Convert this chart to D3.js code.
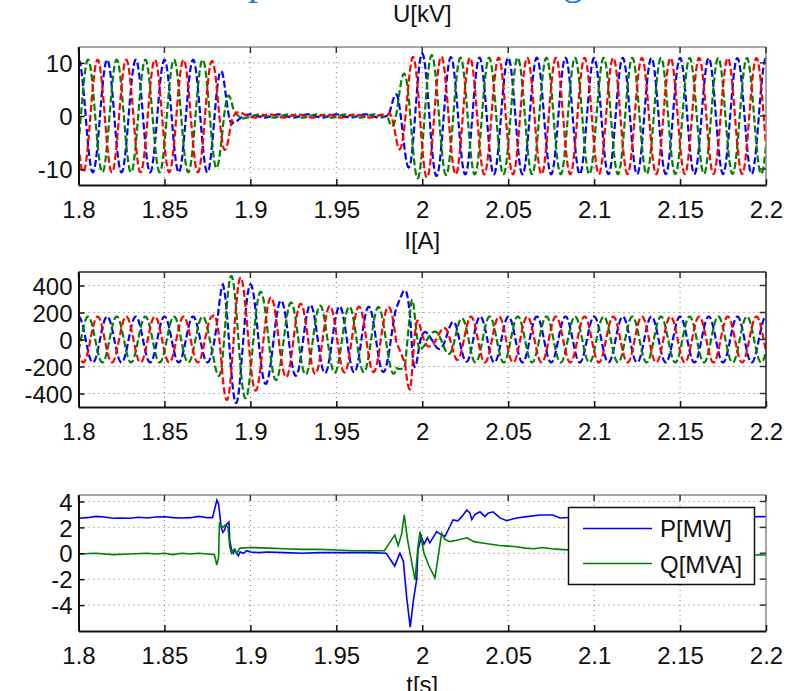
<!DOCTYPE html>
<html><head><meta charset="utf-8">
<script src="https://cdn.jsdelivr.net/npm/d3@7"></script>
<style>body{margin:0;background:#fff}svg{display:block}</style>
</head><body><svg id="c" width="798" height="691"></svg>
<script>
// ---------------- DATA ----------------
const xTicks = [1.8, 1.85, 1.9, 1.95, 2.0, 2.05, 2.1, 2.15, 2.2];
const xTickLabels = ["1.8", "1.85", "1.9", "1.95", "2", "2.05", "2.1", "2.15", "2.2"];
const uTicks = [-10, 0, 10];
const iTicks = [-400, -200, 0, 200, 400];
const pqTicks = [-4, -2, 0, 2, 4];
const panelTitles = ["U[kV]", "I[A]", "t[s]"];
const legendLabels = ["P[MW]", "Q[MVA]"];

// three-phase waveforms: mains frequency, phase angles of blue/green/red traces
const mainsHz = 60;
const phaseColors = ["#0000ff", "#008000", "#ff0000"];
const phaseAngleDeg = [0, -120, 120];
const phaseRefTime = 1.8;

// voltage amplitude envelope [kV]
const uEnvTime = [1.800, 1.876, 1.880, 1.884, 1.887, 1.890, 1.893, 1.898, 1.980, 1.983, 1.986, 1.990, 1.994, 1.998, 2.003, 2.010, 2.020, 2.200];
const uEnvAmp  = [10.6, 10.6, 10.0, 8.0, 5.0, 1.5, 0.8, 0.3, 0.3, 3.0, 6.0, 8.5, 11.0, 11.9, 11.6, 11.2, 11.0, 10.9];

// current amplitude envelope [A]
const iEnvTime = [1.800, 1.878, 1.881, 1.884, 1.888, 1.893, 1.898, 1.903, 1.910, 1.920, 1.935, 1.950, 1.980, 1.985, 1.989, 1.993, 1.996, 2.000, 2.005, 2.012, 2.020, 2.028, 2.200];
const iEnvAmp  = [170, 170, 260, 420, 470, 470, 430, 380, 320, 280, 255, 245, 240, 260, 360, 370, 200, 60, 50, 80, 150, 170, 170];
// current phase shift relative to the voltage [deg]
const iShiftTime = [1.800, 1.895, 1.920, 1.977, 1.985, 1.990, 1.993, 1.997, 2.003, 2.030, 2.060, 2.200];
const iShiftDeg  = [0, 0, -30, -50, -60, -145, -145, -90, -30, -10, 0, 0];

// active power P [MW]
const pTime = [1.800,1.805,1.810,1.815,1.820,1.825,1.830,1.835,1.840,1.845,1.850,1.855,1.860,1.865,1.870,1.875,1.878,1.8805,1.8815,1.883,1.884,1.885,1.886,1.8875,1.888,1.889,1.890,1.891,1.892,1.893,1.894,1.896,1.898,1.900,1.905,1.910,1.920,1.930,1.940,1.950,1.960,1.970,1.979,1.982,1.984,1.986,1.987,1.989,1.991,1.993,1.995,1.9968,1.9975,1.9995,2.001,2.003,2.0044,2.0084,2.0103,2.0132,2.016,2.0179,2.0207,2.023,2.0259,2.0278,2.0288,2.0307,2.0336,2.0365,2.0383,2.0412,2.0452,2.0491,2.055,2.0608,2.0685,2.076,2.0801,2.090,2.120,2.150,2.180,2.200];
const pVal  = [2.70,2.75,2.85,2.80,2.70,2.72,2.70,2.78,2.72,2.80,2.82,2.75,2.72,2.75,2.85,2.75,2.75,4.10,3.80,2.00,1.60,1.80,2.20,2.40,1.00,0.30,0.00,0.30,0.00,-0.20,0.10,0.00,0.20,0.10,0.05,0.10,0.05,0.00,0.05,0.05,0.05,0.05,0.00,-0.60,-1.00,-0.30,0.00,-0.60,-3.50,-5.70,-3.50,-2.00,0.25,1.30,0.70,1.20,0.80,1.67,1.50,1.30,2.05,2.57,2.50,2.83,3.34,3.10,2.60,3.00,3.20,2.83,3.10,3.20,2.73,2.52,2.73,2.83,2.96,2.96,2.73,2.80,2.80,2.85,2.80,2.83];

// reactive power Q [MVA]
const qTime = [1.800,1.810,1.820,1.830,1.840,1.845,1.850,1.855,1.860,1.865,1.870,1.875,1.879,1.8805,1.8815,1.882,1.884,1.8855,1.887,1.888,1.889,1.8905,1.892,1.894,1.900,1.910,1.920,1.930,1.940,1.950,1.960,1.970,1.978,1.981,1.984,1.986,1.988,1.9895,1.9915,1.9958,1.9975,1.9987,2.001,2.004,2.0074,2.0113,2.013,2.016,2.020,2.026,2.030,2.035,2.040,2.045,2.050,2.055,2.060,2.065,2.070,2.075,2.080,2.100,2.130,2.160,2.200];
const qVal  = [-0.05,0.00,-0.10,-0.05,0.00,-0.05,0.00,-0.10,0.00,-0.05,0.00,-0.05,-0.10,-0.90,-0.30,2.30,2.00,2.20,2.00,0.50,0.00,0.30,0.00,0.40,0.45,0.40,0.35,0.30,0.30,0.25,0.20,0.20,0.20,0.80,1.40,0.60,1.50,2.96,1.00,-2.06,0.50,1.67,0.00,-1.00,-1.90,1.55,1.10,0.90,1.00,1.20,0.90,0.80,0.70,0.60,0.55,0.50,0.40,0.35,0.45,0.35,0.30,0.15,0.00,-0.10,-0.13];

// ---------------- DRAWING ----------------
const svg = d3.select("#c");
const FONT = "'Liberation Sans', Arial, sans-serif";
const L = 78.5, R = 766;
const x = d3.scaleLinear().domain([1.8, 2.2]).range([L, R]);

// cropped blue heading fragments at the very top
svg.append("text").attr("x", 248).attr("y", -6).attr("font-family", "'Liberation Serif', serif")
  .attr("font-size", 40).attr("fill", "#1f7ad0").text("p");
svg.append("text").attr("x", 563).attr("y", -6).attr("font-family", "'Liberation Serif', serif")
  .attr("font-size", 40).attr("fill", "#1f7ad0").text("g");

const panels = [
  {top: 47, bottom: 185, dom: [-13, 13], ticks: uTicks, title: panelTitles[0], titleY: 22},
  {top: 272, bottom: 407, dom: [-500, 500], ticks: iTicks, title: panelTitles[1], titleY: 249},
  {top: 495, bottom: 631, dom: [-6, 4.5], ticks: pqTicks, title: null}
];

function drawFrame(p, idx) {
  const y = d3.scaleLinear().domain(p.dom).range([p.bottom, p.top]);
  const g = svg.append("g");
  const clipId = "clip" + idx;
  svg.append("clipPath").attr("id", clipId).append("rect")
    .attr("x", L).attr("y", p.top).attr("width", R - L).attr("height", p.bottom - p.top);
  const grid = g.append("g").attr("stroke", "#777").attr("stroke-width", 1).attr("stroke-dasharray", "1,4");
  grid.selectAll(".vx").data(xTicks.slice(1, -1)).join("line")
    .attr("x1", d => x(d)).attr("x2", d => x(d)).attr("y1", p.top).attr("y2", p.bottom);
  grid.selectAll(".hy").data(p.ticks).join("line")
    .attr("x1", L).attr("x2", R).attr("y1", d => y(d)).attr("y2", d => y(d));
  const plot = g.append("g").attr("clip-path", `url(#${clipId})`);
  const ax = g.append("g");
  ax.append("line").attr("x1", L).attr("x2", R).attr("y1", p.top).attr("y2", p.top).attr("stroke", idx === 1 ? "#222" : "#888").attr("stroke-width", 1.5);
  ax.append("line").attr("x1", R).attr("x2", R).attr("y1", p.top).attr("y2", p.bottom).attr("stroke", idx === 1 ? "#222" : "#888").attr("stroke-width", 1.5);
  const xAxis = d3.axisBottom(x).tickValues(xTicks).tickSizeInner(-6).tickSizeOuter(0).tickFormat((d, i) => xTickLabels[i]);
  const gx = ax.append("g").attr("transform", `translate(0,${p.bottom})`).call(xAxis);
  gx.select(".domain").attr("stroke", "#111").attr("stroke-width", 2);
  gx.selectAll(".tick line").attr("stroke", "#111").attr("stroke-width", 1.5);
  gx.selectAll(".tick text").attr("font-family", FONT).attr("font-size", 24).attr("fill", "#111").attr("dy", 0).attr("y", 33);
  ax.selectAll(".tt").data(xTicks).join("line").attr("x1", d => x(d)).attr("x2", d => x(d))
    .attr("y1", p.top).attr("y2", p.top + 6).attr("stroke", "#333").attr("stroke-width", 1.5);
  const yAxis = d3.axisLeft(y).tickValues(p.ticks).tickSizeInner(-6).tickSizeOuter(0).tickFormat(d3.format("d"));
  const gy = ax.append("g").attr("transform", `translate(${L},0)`).call(yAxis);
  gy.select(".domain").attr("stroke", "#111").attr("stroke-width", 2);
  gy.selectAll(".tick line").attr("stroke", "#111").attr("stroke-width", 1.5);
  gy.selectAll(".tick text").attr("font-family", FONT).attr("font-size", 24).attr("fill", "#111").attr("x", -6).attr("dy", "0.36em")
    .text(d => d < 0 ? "-" + Math.abs(d) : String(d));
  ax.selectAll(".rt").data(p.ticks).join("line").attr("x1", R - 6).attr("x2", R)
    .attr("y1", d => y(d)).attr("y2", d => y(d)).attr("stroke", "#333").attr("stroke-width", 1.5);
  if (p.title) {
    svg.append("text").attr("x", (L + R) / 2).attr("y", p.titleY).attr("text-anchor", "middle")
      .attr("font-family", FONT).attr("font-size", 24).attr("fill", "#111").text(p.title);
  }
  return {y, plot};
}

const frames = panels.map((p, i) => drawFrame(p, i));

// three-phase traces: envelope and phase shift, carrier at mains frequency
const samples = d3.range(1.8, 2.2001, 0.0002);
function threePhase(frame, envT, envA, shT, shD) {
  const env = d3.scaleLinear().domain(envT).range(envA).clamp(true);
  const sh = d3.scaleLinear().domain(shT).range(shD).clamp(true);
  phaseColors.forEach((col, k) => {
    const pts = samples.map(t => [t, env(t) * Math.cos(2 * Math.PI * mainsHz * (t - phaseRefTime) + (phaseAngleDeg[k] + sh(t)) * Math.PI / 180)]);
    frame.plot.append("path").datum(pts)
      .attr("fill", "none").attr("stroke", col).attr("stroke-width", 2.2)
      .attr("stroke-dasharray", "7,3")
      .attr("d", d3.line().x(d => x(d[0])).y(d => frame.y(d[1])));
  });
}
threePhase(frames[0], uEnvTime, uEnvAmp, [1.8, 2.2], [0, 0]);
threePhase(frames[1], iEnvTime, iEnvAmp, iShiftTime, iShiftDeg);

// P and Q
const pq = [[pTime, pVal, "#0000ff"], [qTime, qVal, "#008000"]];
pq.forEach(([tt, vv, col]) => {
  frames[2].plot.append("path").datum(tt.map((t, i) => [t, vv[i]]))
    .attr("fill", "none").attr("stroke", col).attr("stroke-width", 1.6)
    .attr("d", d3.line().x(d => x(d[0])).y(d => frames[2].y(d[1])));
});

// legend
const lg = svg.append("g");
lg.append("rect").attr("x", 568.5).attr("y", 507.5).attr("width", 186).attr("height", 77)
  .attr("fill", "#fff").attr("stroke", "#111").attr("stroke-width", 1.5);
[["#0000ff", 528.5, 537], ["#008000", 563.5, 573]].forEach(([col, ly, ty], i) => {
  lg.append("line").attr("x1", 583).attr("x2", 652).attr("y1", ly).attr("y2", ly).attr("stroke", col).attr("stroke-width", 1.6);
  lg.append("text").attr("x", 660).attr("y", ty).attr("font-family", FONT).attr("font-size", 24).attr("fill", "#111").text(legendLabels[i]);
});

// x-axis title (cropped at bottom, as in the reference)
svg.append("text").attr("x", (L + R) / 2).attr("y", 693).attr("text-anchor", "middle")
  .attr("font-family", FONT).attr("font-size", 24).attr("fill", "#111").text(panelTitles[2]);
</script></body></html>
